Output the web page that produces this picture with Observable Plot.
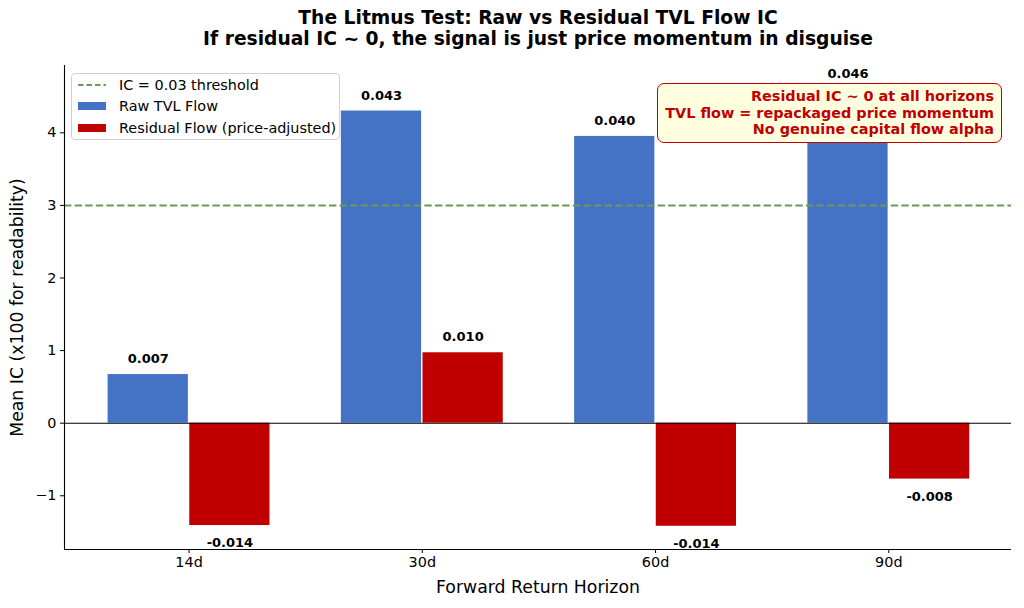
<!DOCTYPE html>
<html>
<head>
<meta charset="utf-8">
<script src="https://cdn.jsdelivr.net/npm/d3@7"></script>
<script src="https://cdn.jsdelivr.net/npm/@observablehq/plot@0.6"></script>
<style>
  html, body { margin: 0; padding: 0; background: #fff; }
  body { font-family: "DejaVu Sans", sans-serif; color: #000; }
  #wrap { position: relative; width: 1024px; height: 608px; overflow: hidden; }
  #title { position: relative; height: 56px; }
  .tline { position: absolute; white-space: nowrap; font-weight: bold; font-size: 18.7px; line-height: 21px; transform: translateX(-50%); }
  #legend { position: absolute; left: 71px; top: 73px; width: 269px; height: 67px; box-sizing: border-box;
            border: 1px solid #d0d0d0; border-radius: 4px; background: rgba(255,255,255,0.85); font-size: 14.4px; }
  .lrow { position: absolute; left: 6px; height: 20px; display: flex; align-items: center; white-space: nowrap; }
  .lrow svg { margin-right: 13px; }
  #note { position: absolute; left: 657px; top: 83px; width: 345px; height: 60px; box-sizing: border-box;
          border: 1.5px solid #C00000; border-radius: 7px; background: #FFFFE0; color: #C00000;
          font-weight: bold; font-size: 14.4px; line-height: 16.6px; text-align: right; padding: 4px 7px 0 0; white-space: nowrap; }
</style>
</head>
<body>
<div id="wrap">
  <div id="title"></div>
  <div id="chart"></div>
  <div id="legend"></div>
  <div id="note"></div>
</div>
<script>
// ---- data ----
const titleLines = [
  "The Litmus Test: Raw vs Residual TVL Flow IC",
  "If residual IC ~ 0, the signal is just price momentum in disguise"
];
const horizons = ["14d", "30d", "60d", "90d"];
const rawIC = [0.0067, 0.0430, 0.0395, 0.0460];
const residualIC = [-0.0141, 0.0097, -0.0142, -0.0077];
const threshold = 0.03;
const displayScale = 100;
const seriesNames = ["Raw TVL Flow", "Residual Flow (price-adjusted)"];
const seriesColors = ["#4472C4", "#C00000"];
const thresholdLabel = "IC = 0.03 threshold";
const yTicks = [-1, 0, 1, 2, 3, 4];
const xLabel = "Forward Return Horizon";
const yLabel = "Mean IC (x100 for readability)";
const noteLines = [
  "Residual IC ~ 0 at all horizons",
  "TVL flow = repackaged price momentum",
  "No genuine capital flow alpha"
];

// ---- layout ----
const barWidth = 0.35;
const xDomain = [-0.534, 3.526];
const yDomain = [-1.74, 4.927];
const thresholdColor = "#6b9a56";

const rows = horizons.flatMap((h, i) => [
  { i, series: seriesNames[0], ic: rawIC[i], x1: i - barWidth, x2: i },
  { i, series: seriesNames[1], ic: residualIC[i], x1: i, x2: i + barWidth }
]).map(d => ({ ...d, y: d.ic * displayScale, xc: (d.x1 + d.x2) / 2 }));

// title (centred over the plot area)
const title = document.getElementById("title");
[7, 28].forEach((top, k) => {
  const el = document.createElement("div");
  el.className = "tline";
  el.style.left = "538px";
  el.style.top = top + "px";
  el.textContent = titleLines[k];
  title.appendChild(el);
});

const chart = Plot.plot({
  width: 1024,
  height: 552,
  marginTop: 9,
  marginBottom: 59,
  marginLeft: 64,
  marginRight: 13,
  style: { fontFamily: "DejaVu Sans, sans-serif", fontSize: "14.4px", color: "#000", background: "#fff", overflow: "visible" },
  x: { type: "linear", domain: xDomain },
  y: { domain: yDomain },
  color: { domain: seriesNames, range: seriesColors },
  marks: [
    Plot.rectY(rows, { x1: "x1", x2: "x2", y1: 0, y2: "y", fill: "series", insetLeft: 0.7, insetRight: 0.7 }),
    Plot.ruleY([threshold * displayScale], { stroke: thresholdColor, strokeWidth: 2, strokeDasharray: "7.4,3.2" }),
    Plot.ruleY([0], { stroke: "#000", strokeWidth: 1.1 }),
    Plot.text(rows.filter(d => d.y >= 0), { x: "xc", y: "y", text: d => d.ic.toFixed(3), dy: -15.5, fontWeight: "bold", fontSize: 13, fill: "#000" }),
    Plot.text(rows.filter(d => d.y < 0), { x: "xc", y: "y", text: d => d.ic.toFixed(3), dy: 17.5, fontWeight: "bold", fontSize: 13, fill: "#000" }),
    Plot.ruleX([xDomain[0]], { stroke: "#000", strokeWidth: 1.1 }),
    Plot.ruleY([yDomain[0]], { stroke: "#000", strokeWidth: 1.1 }),
    Plot.axisX({ ticks: horizons.map((h, i) => i), tickFormat: i => horizons[i], tickSize: 4, tickPadding: 3, label: null, fontSize: 14.4 }),
    Plot.axisY({ ticks: yTicks, tickFormat: d3.format("d"), tickSize: 4, tickPadding: 4, label: null, fontSize: 14.4 }),
    Plot.text([xLabel], { text: d => d, frameAnchor: "bottom", textAnchor: "middle", lineAnchor: "middle", dy: 38, fontSize: 17.3, fill: "#000" }),
    Plot.text([yLabel], { text: d => d, frameAnchor: "left", textAnchor: "middle", lineAnchor: "middle", dx: -47, rotate: -90, fontSize: 17.3, fill: "#000" })
  ]
});
document.getElementById("chart").appendChild(chart);

// legend
const legend = document.getElementById("legend");
const legendItems = [
  { label: thresholdLabel, kind: "line", color: thresholdColor },
  { label: seriesNames[0], kind: "patch", color: seriesColors[0] },
  { label: seriesNames[1], kind: "patch", color: seriesColors[1] }
];
legendItems.forEach((it, k) => {
  const row = document.createElement("div");
  row.className = "lrow";
  row.style.top = (1 + k * 21.4) + "px";
  const handle = it.kind === "line"
    ? `<svg width="28" height="10"><line x1="0" x2="28" y1="5" y2="5" stroke="${it.color}" stroke-width="2" stroke-dasharray="5.5,3"/></svg>`
    : `<svg width="28" height="10"><rect x="0" y="1" width="28" height="8" fill="${it.color}"/></svg>`;
  row.innerHTML = handle + `<span>${it.label}</span>`;
  legend.appendChild(row);
});

// annotation
const note = document.getElementById("note");
note.innerHTML = noteLines.map(t => `<div>${t}</div>`).join("");
</script>
</body>
</html>
